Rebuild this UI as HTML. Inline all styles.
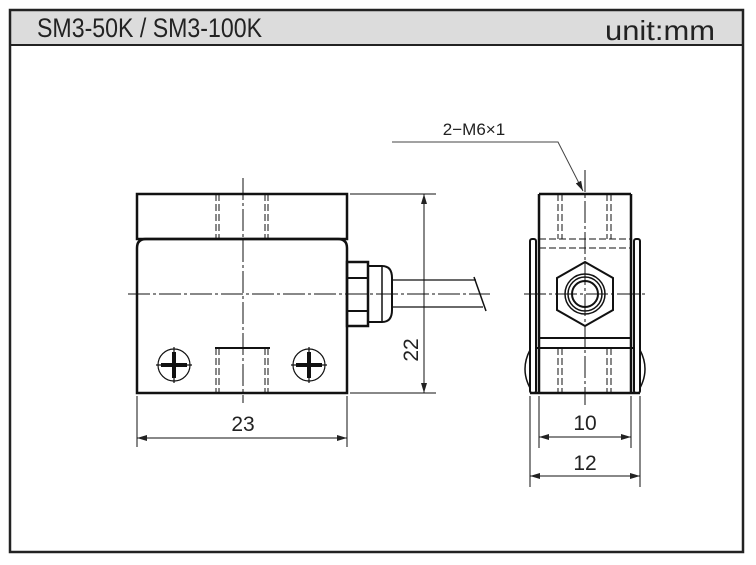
<!DOCTYPE html>
<html><head><style>
html,body{margin:0;padding:0;background:#fff;width:756px;height:565px;overflow:hidden}
</style></head><body>
<svg width="756" height="565" viewBox="0 0 756 565" xmlns="http://www.w3.org/2000/svg" font-family="Liberation Sans, sans-serif">
<defs>
<marker id="ar" viewBox="0 0 10 6" refX="10" refY="3" markerWidth="10" markerHeight="6" orient="auto-start-reverse" markerUnits="userSpaceOnUse"><path d="M0,0 L10,3 L0,6 z" fill="#222"/></marker>
</defs>
<rect x="10" y="10" width="733" height="35" fill="#dcdcdc" stroke="#222" stroke-width="2"/>
<rect x="10" y="10" width="733" height="542" fill="none" stroke="#222" stroke-width="2.5"/>
<text x="37" y="37" font-size="27" fill="#222" font-family="Liberation Sans Narrow, Liberation Sans, sans-serif" textLength="225" lengthAdjust="spacingAndGlyphs">SM3-50K / SM3-100K</text>
<text x="605" y="40" font-size="28" fill="#222" font-family="Liberation Sans, sans-serif" textLength="110" lengthAdjust="spacingAndGlyphs">unit:mm</text>

<g stroke="#111" fill="none">
<rect x="137" y="194" width="210" height="45" stroke-width="2.5"/>
<path d="M137,393 V248 Q137,239 146,239 H338 Q347,239 347,248 V393 Z" stroke-width="2.5"/>
<g stroke-width="1" stroke-dasharray="7,3">
<line x1="216" y1="194" x2="216" y2="239"/><line x1="219" y1="194" x2="219" y2="239"/>
<line x1="265" y1="194" x2="265" y2="239"/><line x1="268" y1="194" x2="268" y2="239"/>
<line x1="216" y1="348" x2="216" y2="393"/><line x1="219" y1="348" x2="219" y2="393"/>
<line x1="265" y1="348" x2="265" y2="393"/><line x1="268" y1="348" x2="268" y2="393"/>
</g>
<line x1="215" y1="348" x2="270" y2="348" stroke-width="2"/>
<g stroke-width="1" stroke-dasharray="22,3,3,3">
<line x1="243" y1="178" x2="243" y2="403"/>
<line x1="128" y1="294" x2="490" y2="294"/>
<line x1="585" y1="170" x2="585" y2="405"/>
<line x1="524" y1="294" x2="646" y2="294"/>
</g>
<rect x="347" y="262" width="21" height="64" stroke-width="2.5"/>
<line x1="347" y1="278" x2="368" y2="278" stroke-width="2"/>
<line x1="347" y1="311" x2="368" y2="311" stroke-width="2"/>
<path d="M368,266 H382 Q392,266 392,278 V310 Q392,322 382,322 H368" stroke-width="2"/>
<line x1="382" y1="266" x2="382" y2="322" stroke-width="1.5"/>
<line x1="392" y1="280" x2="476" y2="280" stroke-width="1.2"/>
<line x1="392" y1="307" x2="483" y2="307" stroke-width="1.2"/>
<line x1="474" y1="277" x2="486" y2="311" stroke-width="1.5"/>
<g stroke-width="1.2">
<circle cx="174" cy="365" r="16"/><circle cx="309" cy="365" r="16"/>
<line x1="156" y1="365" x2="192" y2="365"/><line x1="174" y1="347" x2="174" y2="383"/>
<line x1="291" y1="365" x2="327" y2="365"/><line x1="309" y1="347" x2="309" y2="383"/>
</g>
<g stroke-width="4">
<line x1="161" y1="365" x2="187" y2="365"/><line x1="174" y1="352" x2="174" y2="378"/>
<line x1="296" y1="365" x2="322" y2="365"/><line x1="309" y1="352" x2="309" y2="378"/>
</g>
<g stroke-width="1">
<line x1="350" y1="194" x2="436" y2="194"/><line x1="350" y1="393" x2="436" y2="393"/>
<line x1="424" y1="194" x2="424" y2="393" marker-start="url(#ar)" marker-end="url(#ar)"/>
<line x1="137" y1="396" x2="137" y2="447"/><line x1="347" y1="396" x2="347" y2="447"/>
<line x1="137" y1="438" x2="347" y2="438" marker-start="url(#ar)" marker-end="url(#ar)"/>
</g>

<line x1="539" y1="194" x2="631" y2="194" stroke-width="2.5"/>
<line x1="539" y1="194" x2="539" y2="393" stroke-width="2.5"/>
<line x1="631" y1="194" x2="631" y2="393" stroke-width="2.5"/>
<rect x="530" y="239" width="6" height="154" rx="2" stroke-width="2"/>
<rect x="634" y="239" width="6" height="154" rx="2" stroke-width="2"/>
<line x1="530" y1="393" x2="640" y2="393" stroke-width="2.5"/>
<line x1="539" y1="338" x2="631" y2="338" stroke-width="2"/>
<line x1="536" y1="348" x2="634" y2="348" stroke-width="2"/>
<path d="M530,350 Q520,369 530,388" stroke-width="1.5"/>
<path d="M640,350 Q650,369 640,388" stroke-width="1.5"/>
<g stroke-width="1" stroke-dasharray="7,3">
<line x1="539" y1="239" x2="631" y2="239"/><line x1="539" y1="248" x2="631" y2="248"/>
<line x1="558" y1="194" x2="558" y2="239"/><line x1="562" y1="194" x2="562" y2="239"/>
<line x1="607" y1="194" x2="607" y2="239"/><line x1="611" y1="194" x2="611" y2="239"/>
<line x1="558" y1="348" x2="558" y2="393"/><line x1="562" y1="348" x2="562" y2="393"/>
<line x1="607" y1="348" x2="607" y2="393"/><line x1="611" y1="348" x2="611" y2="393"/>
</g>
<polygon points="585,262 613,278 613,310 585,326 557,310 557,278" stroke-width="2"/>
<circle cx="585" cy="294" r="20" stroke-width="1.5"/>
<circle cx="585" cy="294" r="17" stroke-width="1.5"/>
<circle cx="585" cy="294" r="13" stroke-width="2"/>
<g stroke-width="1">
<line x1="539" y1="396" x2="539" y2="448"/><line x1="631" y1="396" x2="631" y2="448"/>
<line x1="530" y1="396" x2="530" y2="487"/><line x1="640" y1="396" x2="640" y2="487"/>
<line x1="539" y1="437" x2="631" y2="437" marker-start="url(#ar)" marker-end="url(#ar)"/>
<line x1="530" y1="476" x2="640" y2="476" marker-start="url(#ar)" marker-end="url(#ar)"/>
</g>
<polyline points="392,142 558,142 583,191" stroke="#444" stroke-width="1" marker-end="url(#ar)"/>
</g>
<g font-size="21" fill="#222" text-anchor="middle" font-family="Liberation Sans Narrow, Liberation Sans, sans-serif">
<text x="243" y="431">23</text>
<text x="585" y="430">10</text>
<text x="585" y="470">12</text>
<text x="0" y="0" transform="translate(418,350) rotate(-90)">22</text>
<text x="474" y="135" font-size="17" font-family="Liberation Sans, sans-serif">2−M6×1</text>
</g>
</svg>
</body></html>
